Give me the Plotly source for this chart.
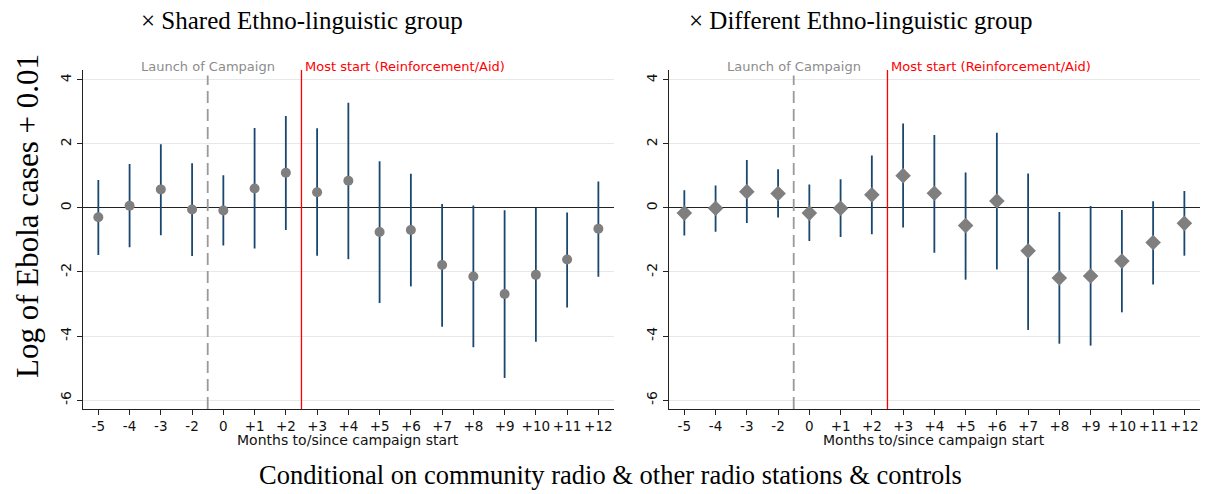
import plotly.graph_objects as go

months = ["-5", "-4", "-3", "-2", "0", "+1", "+2", "+3", "+4", "+5", "+6",
          "+7", "+8", "+9", "+10", "+11", "+12"]

shared_est = [-0.29, 0.07, 0.58, -0.05, -0.08, 0.61, 1.10, 0.49, 0.85, -0.75,
              -0.69, -1.78, -2.14, -2.69, -2.09, -1.61, -0.65]
shared_hi = [0.875, 1.375, 1.99, 1.40, 1.02, 2.50, 2.875, 2.49, 3.29, 1.46,
             1.07, 0.125, 0.08, -0.07, 0.0, -0.14, 0.83]
shared_lo = [-1.47, -1.23, -0.85, -1.50, -1.17, -1.27, -0.69, -1.49, -1.60, -2.97,
             -2.45, -3.71, -4.35, -5.31, -4.18, -3.11, -2.15]

diff_est = [-0.16, -0.01, 0.51, 0.45, -0.16, -0.01, 0.41, 1.01, 0.46, -0.55,
            0.22, -1.34, -2.19, -2.125, -1.66, -1.08, -0.48]
diff_hi = [0.55, 0.70, 1.50, 1.21, 0.73, 0.90, 1.64, 2.64, 2.28, 1.11,
           2.35, 1.08, -0.125, 0.06, -0.06, 0.21, 0.53]
diff_lo = [-0.86, -0.74, -0.47, -0.30, -1.03, -0.91, -0.82, -0.61, -1.40, -2.24,
           -1.92, -3.81, -4.24, -4.30, -3.26, -2.39, -1.49]

y_ticks = [4, 2, 0, -2, -4, -6]
y_ticktext = ["4", "2", "0", "-2", "-4", "-6"]

panel_titles = ["\u00d7 Shared Ethno-linguistic group",
                "\u00d7 Different Ethno-linguistic group"]
x_title = "Months to/since campaign start"
launch_pos = 3.5
reinf_pos = 6.5

SANS = "DejaVu Sans, Liberation Sans, sans-serif"
SERIF = "Liberation Serif, Times New Roman, serif"
NAVY = "#1a476f"
MARK = "#7f7f7f"

OFF = 8  # page body margin
W, H = 1210 - OFF, 494 - OFF
ML, MR, MT, MB = 60, 2, 60, 75
PW, PH = W - ML - MR, H - MT - MB


def px(xp):
    return (xp - OFF - ML) / PW


def py(yp):
    return 1 - (yp - OFF - MT) / PH


fig = go.Figure()


def add_panel(est, hi, lo, xa, ya, symbol, msize):
    fig.add_trace(go.Scatter(
        x=months, y=est, mode="markers",
        marker=dict(symbol=symbol, size=msize, color=MARK, line=dict(width=0)),
        error_y=dict(type="data", symmetric=False,
                     array=[h - e for h, e in zip(hi, est)],
                     arrayminus=[e - l for e, l in zip(est, lo)],
                     color=NAVY, thickness=1.8, width=0),
        xaxis=xa, yaxis=ya, showlegend=False))


add_panel(shared_est, shared_hi, shared_lo, "x", "y", "circle", 10)
add_panel(diff_est, diff_hi, diff_lo, "x2", "y2", "diamond", 12)

ydom = [py(409), py(70)]
xdoms = [[px(82.7), px(614)], [px(668.7), px(1200)]]

axis_common_x = dict(type="category", categoryorder="array", categoryarray=months,
                     range=[-0.5, 16.5], showline=True, linecolor="#222222", linewidth=1,
                     ticks="outside", ticklen=5, tickcolor="#222222", showgrid=False,
                     zeroline=False, automargin=False, tickangle=0,
                     tickfont=dict(family=SANS, size=13.5, color="#111111"))
axis_common_y = dict(range=[-6.28, 4.31], tickvals=y_ticks, ticktext=y_ticktext,
                     tickangle=-90, showline=True, linecolor="#222222", linewidth=1,
                     ticks="outside", ticklen=5, tickcolor="#222222",
                     showgrid=True, gridcolor="#e8e8e8", gridwidth=1,
                     zeroline=True, zerolinecolor="#222222", zerolinewidth=1.2,
                     automargin=False,
                     tickfont=dict(family=SANS, size=14, color="#111111"))

fig.update_layout(
    xaxis=dict(domain=xdoms[0], anchor="y", **axis_common_x),
    yaxis=dict(domain=ydom, anchor="x", **axis_common_y),
    xaxis2=dict(domain=xdoms[1], anchor="y2", **axis_common_x),
    yaxis2=dict(domain=ydom, anchor="x2", **axis_common_y),
)

shapes = []
annotations = []
for xa, ya in [("x", "y"), ("x2", "y2")]:
    shapes.append(dict(type="line", xref=xa, yref=ya + " domain", x0=launch_pos, x1=launch_pos,
                       y0=0, y1=1, line=dict(color="#999999", width=1.8, dash="12px,6px")))
    shapes.append(dict(type="line", xref=xa, yref=ya + " domain", x0=reinf_pos, x1=reinf_pos,
                       y0=0, y1=1, line=dict(color="#ff0000", width=1.3)))
    annotations.append(dict(x=launch_pos, xref=xa, y=py(67), yref="paper", yanchor="middle",
                            text="Launch of Campaign", showarrow=False,
                            xanchor="center",
                            font=dict(family=SANS, size=13, color="#8c8c8c"), bgcolor="white"))
    annotations.append(dict(x=reinf_pos, xref=xa, y=py(67), yref="paper", yanchor="middle",
                            text="Most start (Reinforcement/Aid)", showarrow=False,
                            xanchor="left", xshift=2,
                            font=dict(family=SANS, size=13, color="#ff0000")))

for tx, title in zip([302, 860], panel_titles):
    annotations.append(dict(x=px(tx), y=py(20), xref="paper", yref="paper",
                            xanchor="center", yanchor="middle",
                            text=title, showarrow=False,
                            font=dict(family=SERIF, size=25, color="#000000")))

for tx in [348, 934]:
    annotations.append(dict(x=px(tx), y=py(440), xref="paper", yref="paper",
                            xanchor="center", yanchor="middle",
                            text=x_title, showarrow=False,
                            font=dict(family=SANS, size=14, color="#111111")))

annotations.append(dict(x=px(27), y=py(216), xref="paper", yref="paper",
                        xanchor="center", yanchor="middle",
                        text="Log of Ebola cases + 0.01", textangle=-90, showarrow=False,
                        font=dict(family=SERIF, size=31, color="#000000")))
annotations.append(dict(x=px(610), y=py(475), xref="paper", yref="paper",
                        xanchor="center", yanchor="middle",
                        text="Conditional on community radio &amp; other radio stations &amp; controls",
                        showarrow=False, font=dict(family=SERIF, size=26.5, color="#000000")))

fig.update_layout(shapes=shapes, annotations=annotations,
                  width=W, height=H, margin=dict(l=ML, r=MR, t=MT, b=MB, autoexpand=False),
                  paper_bgcolor="white", plot_bgcolor="white")

fig.write_html("out.html")
